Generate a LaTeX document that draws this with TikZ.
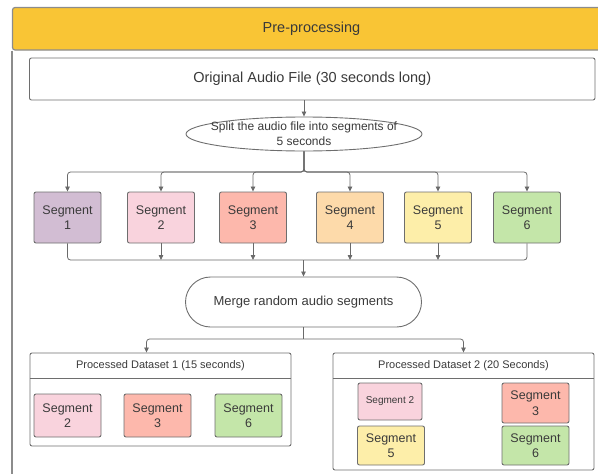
\documentclass[tikz,border=0pt]{standalone}
\usepackage{fontspec}
\setmainfont{Liberation Sans}
\usepackage{tikz}
\usetikzlibrary{shapes.geometric, arrows.meta, calc}

\definecolor{headyellow}{HTML}{F9C535}
\definecolor{framegray}{HTML}{8C8C8C}
\definecolor{boxgray}{HTML}{6E6E6E}
\definecolor{linegray}{HTML}{6A6A6A}
\definecolor{textgray}{HTML}{3A3A3A}
\definecolor{segpurple}{HTML}{D2BDD3}
\definecolor{segpink}{HTML}{F9D3DD}
\definecolor{segred}{HTML}{FDB8AC}
\definecolor{segorange}{HTML}{FDDAAA}
\definecolor{segyellow}{HTML}{FDEEA9}
\definecolor{seggreen}{HTML}{C4E6A9}

\begin{document}
\begin{tikzpicture}[x=1pt, y=-1pt,
    every node/.style={text=textgray},
    line/.style={draw=linegray, line width=0.8pt},
    arr/.style={line, -{Triangle[length=5pt,width=4.5pt]}},
    box/.style={draw=boxgray, line width=0.9pt, rounded corners=2pt, align=center},
    seg/.style={box, minimum width=67pt, font=\fontsize{12.5}{15.5}\selectfont},
    dshead/.style={minimum width=261pt, minimum height=25pt, font=\fontsize{11}{13}\selectfont}]

    % Fix the picture size
    \clip (0,0) rectangle (598,474);

    % Draw the outer frame with its header
    \node[draw=framegray, line width=1.2pt, fill=headyellow, rounded corners=2.5pt,
          minimum width=598pt, minimum height=42.5pt,
          font=\fontsize{14.5}{17}\selectfont] (head) at (311.5,28.75) {Pre-processing};
    \draw[framegray, line width=1.2pt] (head.south west) -- ++(0,440);

    % Original file and the split step
    \node[box, minimum width=565.5pt, minimum height=42pt,
          font=\fontsize{14.5}{17}\selectfont] (orig) at (312.25,79) {Original Audio File (30 seconds long)};
    \node[draw=boxgray, line width=0.9pt, ellipse, minimum width=236pt, minimum height=34pt,
          inner sep=0pt] (split) at (304,134) {};
    \node[font=\fontsize{12}{15}\selectfont, align=center] (splittext) at (split)
        {Split the audio file into segments of\\5 seconds};
    \draw[arr] (orig.south -| split) -- (split.north);

    % The six segments
    \foreach \i/\x/\col in {1/67.5/segpurple, 2/161/segpink, 3/253/segred,
                            4/350/segorange, 5/438/segyellow, 6/527/seggreen}
        \node[seg, fill=\col, minimum height=51pt] (seg\i) at (\x,217.5) {Segment\\\i};

    \coordinate (fan) at (304,172);
    \foreach \i in {1,...,6}
        \draw[arr, rounded corners=3pt] (split.south) -- (fan) -| (seg\i.north);

    % Merge step
    \node[box, rounded corners=25pt, minimum width=236pt, minimum height=50pt,
          font=\fontsize{13}{15}\selectfont] (merge) at (303.5,302) {Merge random audio segments};

    \coordinate (join) at (303.5,260);
    \draw[line, rounded corners=3pt] (seg1.south) |- (join);
    \draw[line, rounded corners=3pt] (seg6.south) |- (join);
    \foreach \i in {2,...,5}
        \draw[arr] (seg\i.south) -- (seg\i.south |- join);
    \draw[arr] (join) -- (merge.north);

    % Processed datasets
    \node[box, minimum width=261pt, minimum height=93pt] (ds1) at (160.5,399.5) {};
    \node[dshead, anchor=north] (ds1head) at (ds1.north) {Processed Dataset 1 (15 seconds)};
    \draw[line, draw=boxgray] (ds1head.south west) -- (ds1head.south east);

    \node[box, minimum width=261pt, minimum height=117pt] (ds2) at (463.5,411.5) {};
    \node[dshead, anchor=north] (ds2head) at (ds2.north) {Processed Dataset 2 (20 Seconds)};
    \draw[line, draw=boxgray] (ds2head.south west) -- (ds2head.south east);

    \coordinate (fork) at (303.5,339);
    \draw[line] (merge.south) -- (fork);
    \draw[arr, rounded corners=3pt] (fork) -| ([xshift=-14pt]ds1.north);
    \draw[arr, rounded corners=3pt] (fork) -| (ds2.north);

    % Segments in dataset 1
    \node[seg, fill=segpink, minimum height=43pt] (ds1seg2) at (67.5,415.5) {Segment\\2};
    \node[seg, fill=segred, minimum height=43pt] (ds1seg3) at (157.5,415.5) {Segment\\3};
    \node[seg, fill=seggreen, minimum height=43pt] (ds1seg6) at (248.5,415.5) {Segment\\6};

    % Segments in dataset 2
    \node[box, fill=segpink, minimum width=64pt, minimum height=37pt,
          font=\fontsize{10}{12}\selectfont] (ds2seg2) at (390,401.5) {Segment 2};
    \node[seg, fill=segred, minimum height=40pt] (ds2seg3) at (535.5,403) {Segment\\3};
    \node[seg, fill=segyellow, minimum height=39pt] (ds2seg5) at (391,445.5) {Segment\\5};
    \node[seg, fill=seggreen, minimum height=39pt] (ds2seg6) at (535.5,445.5) {Segment\\6};

\end{tikzpicture}
\end{document}
